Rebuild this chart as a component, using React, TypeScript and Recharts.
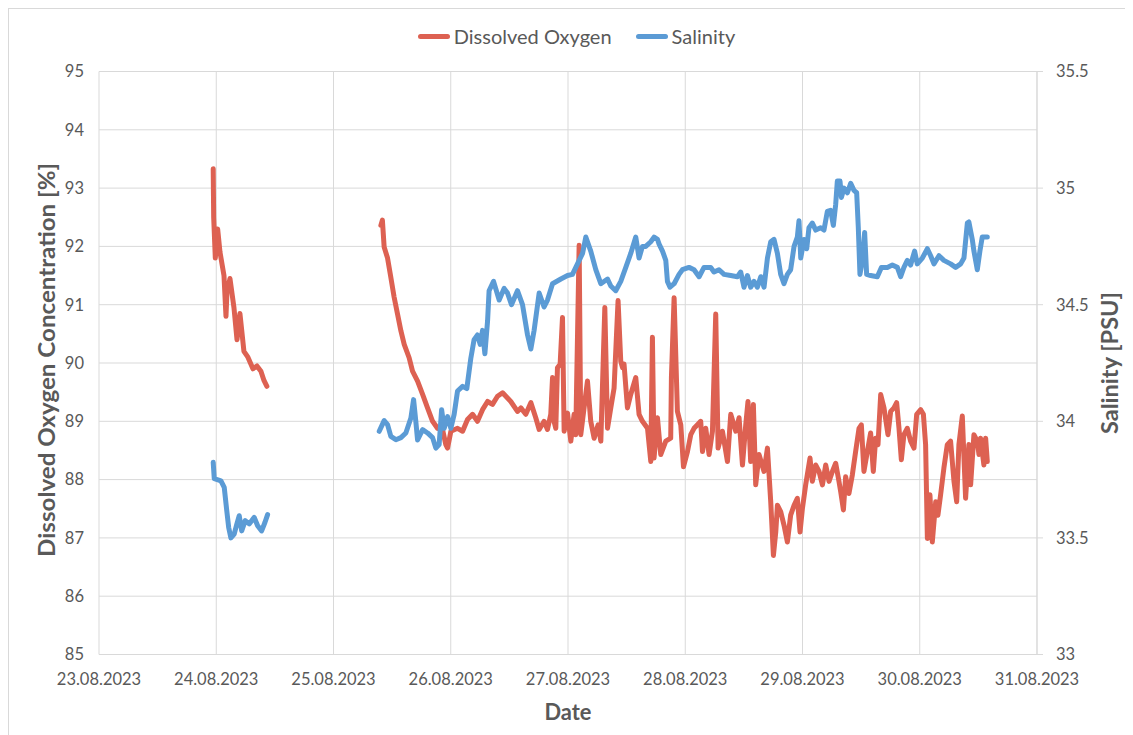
import React from 'react';
import { LineChart, Line, XAxis, YAxis, CartesianGrid, Legend } from 'recharts';

// ---- axis / tick data ----
const dateLabels = ['23.08.2023', '24.08.2023', '25.08.2023', '26.08.2023', '27.08.2023', '28.08.2023', '29.08.2023', '30.08.2023', '31.08.2023'];
const dayTicks = [0, 1, 2, 3, 4, 5, 6, 7, 8];
const oxygenTicks = [85, 86, 87, 88, 89, 90, 91, 92, 93, 94, 95];
const salinityTicks = [33, 33.5, 34, 34.5, 35, 35.5];

// ---- series data (time = days since 23.08.2023 00:00; null = gap in record) ----
const oxygenTime = [
  0.974, 0.978, 0.992, 1.012, 1.032, 1.066, 1.083, 1.091, 1.117, 1.151, 1.177, 1.202, 1.236, 1.270, 1.313, 1.347, 1.381, 1.407, 1.432,
  2.0,
  2.404, 2.417, 2.432, 2.461, 2.489, 2.517, 2.546, 2.575, 2.603, 2.645, 2.674, 2.717, 2.760, 2.802, 2.845, 2.887, 2.930, 2.958, 2.973,
  3.001, 3.058, 3.101, 3.143, 3.186, 3.228, 3.271, 3.314, 3.356, 3.399, 3.442, 3.484, 3.512, 3.569, 3.598, 3.640, 3.683, 3.725, 3.754,
  3.796, 3.825, 3.853, 3.868, 3.881, 3.896, 3.910, 3.933, 3.953, 3.967, 3.996, 4.024, 4.052, 4.066, 4.095, 4.109, 4.137, 4.166, 4.194,
  4.223, 4.257, 4.280, 4.314, 4.337, 4.365, 4.393, 4.427, 4.450, 4.465, 4.478, 4.507, 4.535, 4.578, 4.606, 4.635, 4.678, 4.706, 4.720,
  4.734, 4.763, 4.791, 4.834, 4.876, 4.882, 4.905, 4.933, 4.962, 4.985, 5.019, 5.047, 5.075, 5.104, 5.132, 5.147, 5.175, 5.203, 5.232,
  5.260, 5.280, 5.317, 5.360, 5.388, 5.431, 5.459, 5.488, 5.516, 5.535, 5.558, 5.581, 5.601, 5.629, 5.672, 5.701, 5.729, 5.752, 5.772,
  5.786, 5.814, 5.842, 5.871, 5.899, 5.928, 5.956, 5.979, 5.999, 6.027, 6.064, 6.084, 6.113, 6.141, 6.170, 6.198, 6.226, 6.255, 6.283,
  6.311, 6.326, 6.349, 6.368, 6.396, 6.425, 6.453, 6.482, 6.502, 6.524, 6.553, 6.581, 6.604, 6.624, 6.644, 6.667, 6.695, 6.729, 6.752,
  6.780, 6.803, 6.823, 6.843, 6.865, 6.894, 6.922, 6.951, 6.974, 7.008, 7.031, 7.050, 7.065, 7.087, 7.107, 7.136, 7.155, 7.178, 7.206,
  7.235, 7.263, 7.292, 7.315, 7.334, 7.363, 7.391, 7.419, 7.434, 7.462, 7.491, 7.505, 7.519, 7.547, 7.562, 7.576,
];
const oxygenValue = [
  93.33, 92.5, 91.8, 92.3, 91.9, 91.5, 90.8, 91.2, 91.45, 90.95, 90.4, 90.85, 90.2, 90.1, 89.9, 89.95, 89.86, 89.7, 89.6,
  null,
  92.36, 92.45, 91.99, 91.8, 91.47, 91.13, 90.84, 90.55, 90.32, 90.09, 89.86, 89.69, 89.46, 89.23, 89.0, 88.88, 88.86, 88.6, 88.54,
  88.83, 88.88, 88.83, 89.03, 89.12, 89.0, 89.2, 89.34, 89.29, 89.43, 89.49, 89.4, 89.34, 89.17, 89.23, 89.12, 89.32, 89.06, 88.86,
  89.0, 88.86, 89.12, 89.75, 89.0, 88.88, 89.92, 89.98, 90.78, 88.83, 89.14, 88.66, 89.12, 88.77, 92.02, 88.77, 89.23, 89.69, 89.0,
  88.71, 88.94, 88.66, 90.95, 88.88, 89.23, 89.57, 91.07, 90.03, 89.92, 89.98, 89.23, 89.46, 89.75, 89.12, 89.0, 88.88, 88.31, 90.44,
  88.37, 89.06, 88.43, 88.66, 88.71, 89.75, 91.12, 89.17, 88.94, 88.22, 88.48, 88.77, 88.88, 88.94, 89.0, 88.48, 88.88, 88.43, 88.83,
  90.84, 88.54, 88.83, 88.31, 89.12, 88.83, 89.06, 88.25, 88.94, 89.34, 88.31, 89.29, 87.91, 88.43, 88.14, 88.54, 87.62, 86.7, 87.1,
  87.56, 87.45, 87.22, 86.93, 87.39, 87.56, 87.68, 87.1, 87.5, 87.91, 88.37, 87.97, 88.25, 88.14, 87.91, 88.25, 87.97, 88.14, 88.28,
  87.97, 87.79, 87.48, 88.05, 87.76, 88.08, 88.48, 88.88, 88.94, 88.14, 88.48, 88.8, 88.14, 88.71, 88.6, 89.46, 89.23, 88.77, 89.17,
  89.23, 89.32, 88.88, 88.34, 88.77, 88.88, 88.66, 88.54, 89.12, 89.2, 89.12, 88.6, 86.99, 87.74, 86.93, 87.62, 87.39, 87.74, 88.2,
  88.6, 88.66, 87.97, 87.62, 88.6, 89.09, 87.68, 88.6, 87.91, 88.77, 88.66, 88.43, 88.71, 88.25, 88.71, 88.31,
];

const salinityTime = [
  0.974, 0.983, 1.040, 1.068, 1.089, 1.106, 1.125, 1.153, 1.176, 1.196, 1.217, 1.247, 1.281, 1.324, 1.353, 1.387, 1.415, 1.438,
  2.0,
  2.390, 2.432, 2.461, 2.489, 2.532, 2.575, 2.617, 2.660, 2.683, 2.702, 2.717, 2.760, 2.802, 2.845, 2.873, 2.901, 2.922, 2.944, 2.973,
  3.001, 3.029, 3.058, 3.101, 3.137, 3.171, 3.199, 3.228, 3.251, 3.271, 3.291, 3.314, 3.327, 3.365, 3.413, 3.455, 3.484, 3.518, 3.569,
  3.612, 3.655, 3.683, 3.711, 3.754, 3.796, 3.825, 3.868, 3.939, 3.996, 4.038, 4.081, 4.124, 4.152, 4.194, 4.237, 4.280, 4.337, 4.365,
  4.407, 4.450, 4.493, 4.535, 4.578, 4.606, 4.635, 4.663, 4.706, 4.734, 4.763, 4.777, 4.806, 4.834, 4.848, 4.870, 4.905, 4.947, 4.976,
  5.032, 5.075, 5.118, 5.160, 5.217, 5.245, 5.288, 5.331, 5.388, 5.445, 5.473, 5.501, 5.530, 5.558, 5.587, 5.615, 5.644, 5.672, 5.701,
  5.729, 5.757, 5.786, 5.814, 5.842, 5.871, 5.899, 5.928, 5.956, 5.970, 5.985, 6.013, 6.036, 6.055, 6.084, 6.113, 6.155, 6.183, 6.212,
  6.240, 6.263, 6.283, 6.297, 6.320, 6.332, 6.354, 6.383, 6.411, 6.439, 6.462, 6.476, 6.490, 6.511, 6.530, 6.547, 6.581, 6.638, 6.673,
  6.724, 6.766, 6.809, 6.837, 6.865, 6.894, 6.922, 6.956, 6.979, 7.022, 7.065, 7.093, 7.121, 7.164, 7.206, 7.263, 7.306, 7.349, 7.377,
  7.406, 7.419, 7.448, 7.462, 7.491, 7.513, 7.533, 7.576,
];
const salinityValue = [
  33.824, 33.754, 33.745, 33.717, 33.62, 33.545, 33.5, 33.516, 33.56, 33.595, 33.53, 33.574, 33.56, 33.588, 33.552, 33.53, 33.566, 33.6,
  null,
  33.957, 34.003, 33.986, 33.935, 33.921, 33.93, 33.95, 34.014, 34.093, 34.0, 33.92, 33.964, 33.95, 33.93, 33.885, 33.9, 34.05, 33.97, 34.02,
  33.97, 34.03, 34.13, 34.15, 34.14, 34.27, 34.35, 34.37, 34.33, 34.39, 34.29, 34.43, 34.56, 34.6, 34.52, 34.57, 34.55, 34.5, 34.56,
  34.5, 34.37, 34.31, 34.39, 34.55, 34.49, 34.52, 34.59, 34.61, 34.625, 34.63, 34.675, 34.72, 34.79, 34.73, 34.65, 34.59, 34.61, 34.58,
  34.56, 34.6, 34.66, 34.72, 34.79, 34.7, 34.75, 34.75, 34.77, 34.79, 34.78, 34.76, 34.73, 34.69, 34.6, 34.575, 34.59, 34.63, 34.65,
  34.66, 34.65, 34.62, 34.66, 34.66, 34.64, 34.65, 34.63, 34.625, 34.62, 34.64, 34.575, 34.625, 34.575, 34.6, 34.575, 34.62, 34.575, 34.7,
  34.77, 34.78, 34.72, 34.63, 34.59, 34.63, 34.65, 34.75, 34.79, 34.86, 34.7, 34.78, 34.74, 34.83, 34.85, 34.82, 34.83, 34.82, 34.9,
  34.905, 34.84, 34.93, 35.03, 35.03, 34.96, 35.0, 34.98, 35.02, 34.99, 34.98, 34.83, 34.63, 34.69, 34.81, 34.63, 34.625, 34.62, 34.66,
  34.66, 34.67, 34.66, 34.62, 34.66, 34.69, 34.67, 34.73, 34.675, 34.7, 34.74, 34.71, 34.675, 34.71, 34.69, 34.675, 34.66, 34.675, 34.7,
  34.85, 34.855, 34.78, 34.73, 34.65, 34.73, 34.79, 34.79,
];

const oxygenData = oxygenTime.map((t, i) => ({ t, v: oxygenValue[i] }));
const salinityData = salinityTime.map((t, i) => ({ t, v: salinityValue[i] }));

const FONT = 'Lato, "Noto Sans", "DejaVu Sans", sans-serif';
const TEXT = '#595959';
const GRID = '#d9d9d9';
const RED = '#DD6152';
const BLUE = '#5B9BD5';

const W = 1125;
const H = 727;

const LegendContent = () => (
  <div style={{ display: 'flex', justifyContent: 'center', alignItems: 'center', paddingLeft: 11, fontFamily: FONT, fontSize: 20, color: TEXT, height: 28 }}>
    <span style={{ display: 'inline-block', width: 32, height: 5, background: RED, borderRadius: 2.5, marginRight: 4 }} />
    <span style={{ marginRight: 24 }}>Dissolved Oxygen</span>
    <span style={{ display: 'inline-block', width: 32, height: 5, background: BLUE, borderRadius: 2.5, marginRight: 4 }} />
    <span>Salinity</span>
  </div>
);

const xTitle = (props: any) => {
  const vb = props.viewBox;
  return (
    <text x={vb.x + vb.width / 2} y={vb.y + 57} textAnchor="middle" dominantBaseline="central" fill={TEXT} fontSize={22} fontWeight={700} fontFamily={FONT} textLength={47} lengthAdjust="spacingAndGlyphs">
      Date
    </text>
  );
};

const leftTitle = (props: any) => {
  const vb = props.viewBox;
  const cx = 37;
  const cy = vb.y + vb.height / 2 - 3;
  return (
    <text x={cx} y={cy} transform={`rotate(-90 ${cx} ${cy})`} textAnchor="middle" dominantBaseline="central" fill={TEXT} fontSize={22} fontWeight={700} fontFamily={FONT} textLength={394} lengthAdjust="spacingAndGlyphs">
      Dissolved Oxygen Concentration [%]
    </text>
  );
};

const rightTitle = (props: any) => {
  const vb = props.viewBox;
  const cx = 1100;
  const cy = vb.y + vb.height / 2;
  return (
    <text x={cx} y={cy} transform={`rotate(-90 ${cx} ${cy})`} textAnchor="middle" dominantBaseline="central" fill={TEXT} fontSize={22} fontWeight={700} fontFamily={FONT} textLength={142} lengthAdjust="spacingAndGlyphs">
      Salinity [PSU]
    </text>
  );
};

export default function App() {
  return (
    <div style={{ position: 'relative', width: W, height: H, borderLeft: `1px solid ${GRID}`, borderTop: `1px solid ${GRID}`, boxSizing: 'border-box', fontFamily: FONT }}>
      <LineChart width={W - 1} height={H - 1} margin={{ top: 62.5, right: 0, bottom: 10.5, left: 0 }}>
        <CartesianGrid stroke={GRID} strokeWidth={1} yAxisId="o2" xAxisId="t" />
        <XAxis
          xAxisId="t"
          dataKey="t"
          type="number"
          domain={[0, 8]}
          ticks={dayTicks}
          interval={0}
          allowDataOverflow
          tickFormatter={(v: number) => dateLabels[Math.round(v)]}
          tick={{ fill: TEXT, fontSize: 16.5, fontFamily: FONT }}
          tickLine={false}
          tickSize={6}
          tickMargin={13}
          axisLine={{ stroke: GRID }}
          height={70}
          label={xTitle}
        />
        <YAxis
          yAxisId="o2"
          orientation="left"
          type="number"
          domain={[85, 95]}
          ticks={oxygenTicks}
          interval={0}
          allowDataOverflow
          tick={{ fill: TEXT, fontSize: 16.5, fontFamily: FONT }}
          tickLine={false}
          tickSize={6}
          tickMargin={9}
          axisLine={false}
          width={90}
          label={leftTitle}
        />
        <YAxis
          yAxisId="sal"
          orientation="right"
          type="number"
          domain={[33, 35.5]}
          ticks={salinityTicks}
          interval={0}
          allowDataOverflow
          tick={{ fill: TEXT, fontSize: 16.5, fontFamily: FONT }}
          tickLine={{ stroke: GRID }}
          tickSize={6}
          tickMargin={13}
          axisLine={{ stroke: GRID }}
          width={96}
          label={rightTitle}
        />
        <Legend verticalAlign="top" content={<LegendContent />} wrapperStyle={{ top: 13, left: 0, width: W - 1, height: 0 }} />
        <Line
          name="Dissolved Oxygen"
          data={oxygenData}
          dataKey="v"
          xAxisId="t"
          yAxisId="o2"
          type="linear"
          stroke={RED}
          strokeWidth={5}
          strokeLinejoin="round"
          strokeLinecap="round"
          dot={false}
          activeDot={false}
          connectNulls={false}
          isAnimationActive={false}
        />
        <Line
          name="Salinity"
          data={salinityData}
          dataKey="v"
          xAxisId="t"
          yAxisId="sal"
          type="linear"
          stroke={BLUE}
          strokeWidth={5}
          strokeLinejoin="round"
          strokeLinecap="round"
          dot={false}
          activeDot={false}
          connectNulls={false}
          isAnimationActive={false}
        />
      </LineChart>
    </div>
  );
}
